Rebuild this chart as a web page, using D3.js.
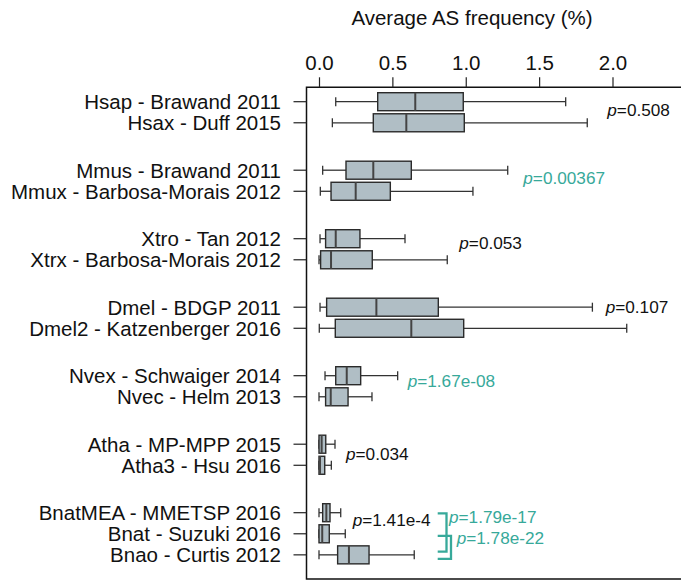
<!DOCTYPE html>
<html>
<head>
<meta charset="utf-8">
<script src="https://cdn.jsdelivr.net/npm/d3@7"></script>
<style>
  html, body { margin: 0; padding: 0; background: #fff; }
  svg { display: block; font-family: "Liberation Sans", Arial, Helvetica, sans-serif; }
</style>
</head>
<body>
<svg id="chart" width="681" height="580"></svg>
<script>
// Datasets, grouped by species (group index), top to bottom
const datasets = [
  "Hsap - Brawand 2011", "Hsax - Duff 2015",
  "Mmus - Brawand 2011", "Mmux - Barbosa-Morais 2012",
  "Xtro - Tan 2012", "Xtrx - Barbosa-Morais 2012",
  "Dmel - BDGP 2011", "Dmel2 - Katzenberger 2016",
  "Nvex - Schwaiger 2014", "Nvec - Helm 2013",
  "Atha - MP-MPP 2015", "Atha3 - Hsu 2016",
  "BnatMEA - MMETSP 2016", "Bnat - Suzuki 2016", "Bnao - Curtis 2012"
];
const groupOf = [0, 0, 1, 1, 2, 2, 3, 3, 4, 4, 5, 5, 6, 6, 6];

// Box statistics, average AS frequency (%)
const whiskerLow  = [0.114, 0.091, 0.025, 0.009, 0.007, 0.000, 0.007, 0.002, 0.041, 0.000, 0.000, 0.000, 0.000, 0.000, 0.000];
const quartile1   = [0.400, 0.370, 0.184, 0.082, 0.045, 0.011, 0.052, 0.111, 0.114, 0.045, 0.000, 0.000, 0.025, 0.000, 0.127];
const medians     = [0.656, 0.595, 0.370, 0.250, 0.114, 0.082, 0.391, 0.629, 0.189, 0.080, 0.018, 0.007, 0.050, 0.022, 0.204];
const quartile3   = [0.983, 0.990, 0.629, 0.486, 0.279, 0.363, 0.813, 0.986, 0.284, 0.198, 0.046, 0.039, 0.075, 0.070, 0.341];
const whiskerHigh = [1.681, 1.828, 1.286, 1.049, 0.586, 0.874, 1.863, 2.097, 0.536, 0.361, 0.109, 0.084, 0.148, 0.179, 0.649];

const xTicks = [0, 0.5, 1.0, 1.5, 2.0];
const xTitle = "Average AS frequency (%)";

// Pairwise test results
const pTexts       = ["0.508", "0.00367", "0.053", "0.107", "1.67e-08", "0.034", "1.41e-4", "1.79e-17", "1.78e-22"];
const pSignificant = [false, true, false, false, true, false, false, true, true];
// Bracketed comparisons (dataset indices)
const bracketPairs = [[12, 14], [13, 14]];

const TEAL = "#37a99a";
const svg = d3.select("#chart");

const x = d3.scaleLinear().domain([0, 2]).range([319, 612.5]);
// slot position: groups are 3.25 slots apart, rows within a group 1 slot apart
const slotOf = datasets.map((d, i) => {
  const g = groupOf[i];
  const within = groupOf.slice(0, i).filter(v => v === g).length;
  return g * 3.25 + within;
});
const y = d3.scaleLinear().domain([0, 19.5]).range([101.7, 512.7]);
const rowY = i => y(slotOf[i]);

const frameLeft = 306.5, frameTop = 87.3, frameBottom = 579;

// Frame (right side runs off the canvas)
svg.append("path")
  .attr("d", `M700,${frameTop}H${frameLeft}V${frameBottom}H700`)
  .attr("fill", "none").attr("stroke", "#111").attr("stroke-width", 1.5);

// Top axis
const topAxis = svg.append("g").attr("transform", `translate(0,${frameTop})`)
  .call(d3.axisTop(x).tickValues(xTicks).tickFormat(d3.format(".1f")).tickSize(10).tickPadding(7));
topAxis.select(".domain").remove();
topAxis.selectAll("line").attr("stroke", "#222").attr("stroke-width", 1.2);
topAxis.selectAll("text").attr("font-size", "20.5px").attr("fill", "#111")
  .attr("font-family", "Liberation Sans, Arial, sans-serif");

svg.append("text").attr("x", 472).attr("y", 25).attr("text-anchor", "middle")
  .attr("font-size", "20.5px").attr("fill", "#111").text(xTitle);

// Left axis: one tick per dataset
const leftAxis = svg.append("g").attr("transform", `translate(${frameLeft},0)`);
datasets.forEach((name, i) => {
  const yy = rowY(i);
  leftAxis.append("line").attr("x1", -13).attr("x2", 0).attr("y1", yy).attr("y2", yy)
    .attr("stroke", "#222").attr("stroke-width", 1.2);
  leftAxis.append("text").attr("x", -25.5).attr("y", yy).attr("dy", "0.36em")
    .attr("text-anchor", "end").attr("font-size", "20.5px").attr("fill", "#111").text(name);
});

// Boxes
const boxH = 18, capH = 9;
const boxes = svg.append("g");
datasets.forEach((name, i) => {
  const yy = rowY(i);
  const g = boxes.append("g");
  // whiskers
  g.append("line").attr("x1", x(whiskerLow[i])).attr("x2", x(quartile1[i]))
    .attr("y1", yy).attr("y2", yy).attr("stroke", "#333").attr("stroke-width", 1.3);
  g.append("line").attr("x1", x(quartile3[i])).attr("x2", x(whiskerHigh[i]))
    .attr("y1", yy).attr("y2", yy).attr("stroke", "#333").attr("stroke-width", 1.3);
  [whiskerLow[i], whiskerHigh[i]].forEach(v => {
    g.append("line").attr("x1", x(v)).attr("x2", x(v))
      .attr("y1", yy - capH / 2).attr("y2", yy + capH / 2)
      .attr("stroke", "#333").attr("stroke-width", 1.3);
  });
  // box
  g.append("rect").attr("x", x(quartile1[i])).attr("y", yy - boxH / 2)
    .attr("width", Math.max(x(quartile3[i]) - x(quartile1[i]), 1)).attr("height", boxH)
    .attr("fill", "#b0bec5").attr("stroke", "#2a2a2a").attr("stroke-width", 1.4);
  // median
  g.append("line").attr("x1", x(medians[i])).attr("x2", x(medians[i]))
    .attr("y1", yy - boxH / 2).attr("y2", yy + boxH / 2)
    .attr("stroke", "#444").attr("stroke-width", 2);
});

// p-value labels: [x pixel, anchor row, baseline offset]
const pLayout = [
  [607.3, 0, 14], [523.3, 2, 14], [459.3, 4, 10.5], [605.7, 6, 5.7],
  [407.7, 8, 11.3], [346, 10, 16], [352.7, 12, 13], [449, 12, 10.5], [456.7, 13, 10]
];
pTexts.forEach((t, k) => {
  const [px, row, off] = pLayout[k];
  const txt = svg.append("text").attr("x", px).attr("y", rowY(row) + off)
    .attr("font-size", "17.2px").attr("fill", pSignificant[k] ? TEAL : "#111");
  txt.append("tspan").attr("font-style", "italic").text("p");
  txt.append("tspan").text("=" + t);
});

// Brackets for the Bnao comparisons
const bracketLayout = [[437.7, 446.5, 0.6, -3.3], [437.7, 451, 2, 4]];
bracketPairs.forEach(([a, b], k) => {
  const [x0, x1, topOff, botOff] = bracketLayout[k];
  const ya = rowY(a) + topOff, yb = rowY(b) + botOff;
  svg.append("path").attr("d", `M${x0},${ya}H${x1}V${yb}H${x0}`)
    .attr("fill", "none").attr("stroke", TEAL).attr("stroke-width", 2.3);
});
</script>
</body>
</html>
